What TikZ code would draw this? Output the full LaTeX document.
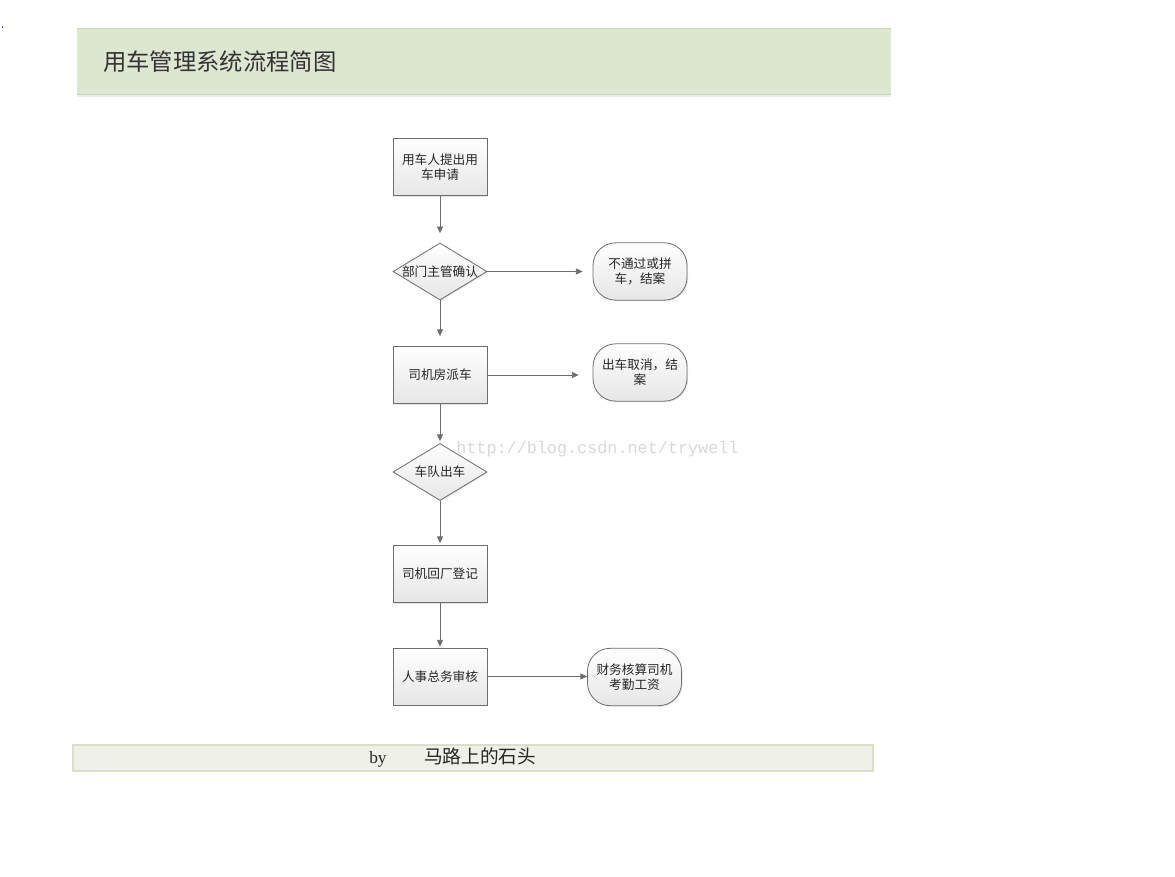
\documentclass[tikz,border=0pt]{standalone}
\usepackage{fontspec}
\setmainfont{Liberation Serif}
\newfontfamily\cjk{Noto Sans CJK SC}
\newfontfamily\monof{Liberation Mono}
\usetikzlibrary{arrows.meta,shapes.geometric,shadows}
\definecolor{linegray}{HTML}{6E6E6E}
\definecolor{boxbot}{HTML}{E6E6E6}
\definecolor{hdrfill}{HTML}{DDE6D1}
\definecolor{hdrline}{HTML}{C9D9B2}
\definecolor{ftrfill}{HTML}{EFF1E8}
\definecolor{ftrline}{HTML}{D8E0CB}
\definecolor{wmark}{HTML}{D9D9D9}
\begin{document}
\begin{tikzpicture}[x=0.75pt,y=-0.75pt,
  shapebase/.style={draw=linegray, line width=0.6pt, top color=white, bottom color=boxbot,
    inner sep=0pt, drop shadow={shadow xshift=0.8pt,shadow yshift=-0.8pt,opacity=0.2}},
  stepbox/.style={shapebase, rectangle, minimum width=70.5pt, minimum height=42.75pt},
  decbox/.style={shapebase, diamond, minimum width=70.5pt, minimum height=42.75pt},
  endbox/.style={shapebase, rectangle, rounded corners=17pt, minimum width=70.5pt, minimum height=43pt},
  lbl/.style={align=center, inner sep=0pt, font=\cjk\fontsize{9.5}{11.4}\selectfont, text=black!85},
  flow/.style={draw=linegray, line width=0.6pt, -{Triangle[length=5pt,width=4.5pt]}}
]
\useasboundingbox (0,0) rectangle (1175,877);
\fill[white] (0,0) rectangle (1175,877);
% stray dot
\fill[blue!70] (1.5,26.5) rectangle (3,28);
% header band
\fill[hdrfill] (77,28) rectangle (891,95);
\draw[hdrline, line width=0.9pt] (77,28.5) -- (891,28.5);
\draw[hdrline, line width=0.9pt] (77,94.5) -- (891,94.5);
\draw[black!8, line width=0.8pt] (77,96) -- (891,96);
\node[anchor=west, inner sep=0pt, font=\cjk\fontsize{17.5}{20}\selectfont, text=black!80] (title) at (103,62) {用车管理系统流程简图};
% footer band
\fill[ftrfill] (73,745) rectangle (873,771);
\draw[ftrline, line width=0.8pt] (73,745) rectangle (873,771);
\node[anchor=base west, inner sep=0pt, font=\fontsize{13}{15}\selectfont, text=black!85] (by) at (369,763) {by};
\node[anchor=base west, inner sep=0pt, font=\cjk\fontsize{14}{16}\selectfont, text=black!85] (auth) at (424,763.5) {马路上的石头};
% watermark
\node[anchor=west, inner sep=0pt, font=\monof\fontsize{12.6}{14}\selectfont, text=wmark] (wm) at (456,449) {http://blog.csdn.net/trywell};

% nodes
\node[stepbox] (s1) at (440,167) {};
\node[lbl] at (s1) {用车人提出用\\车申请};
\node[decbox] (d1) at (440,271.5) {};
\node[lbl] at (d1) {部门主管确认};
\node[endbox] (e1) at (640,271.5) {};
\node[lbl] at (e1) {不通过或拼\\车，结案};
\node[stepbox] (s2) at (440,375) {};
\node[lbl] at (s2) {司机房派车};
\node[endbox] (e2) at (640,372.5) {};
\node[lbl] at (e2) {出车取消，结\\案};
\node[decbox] (d2) at (440,472) {};
\node[lbl] at (d2) {车队出车};
\node[stepbox] (s3) at (440,574) {};
\node[lbl] at (s3) {司机回厂登记};
\node[stepbox] (s4) at (440,676.5) {};
\node[lbl] at (s4) {人事总务审核};
\node[endbox] (e3) at (634.5,677) {};
\node[lbl] at (e3) {财务核算司机\\考勤工资};

% connectors
\draw[flow, shorten >=7pt] (s1) -- (d1);
\draw[flow, shorten >=7.5pt] (d1) -- (e1);
\draw[flow, shorten >=7.5pt] (d1) -- (s2);
\draw[flow, shorten >=10.5pt] (s2.east) -- (s2.east -| e2.west);
\draw[flow, shorten >=1.5pt] (s2) -- (d2);
\draw[flow, shorten >=1.5pt] (d2) -- (s3);
\draw[flow, shorten >=0.8pt] (s3) -- (s4);
\draw[flow] (s4.east) -- (s4.east -| e3.west);
\end{tikzpicture}
\end{document}
